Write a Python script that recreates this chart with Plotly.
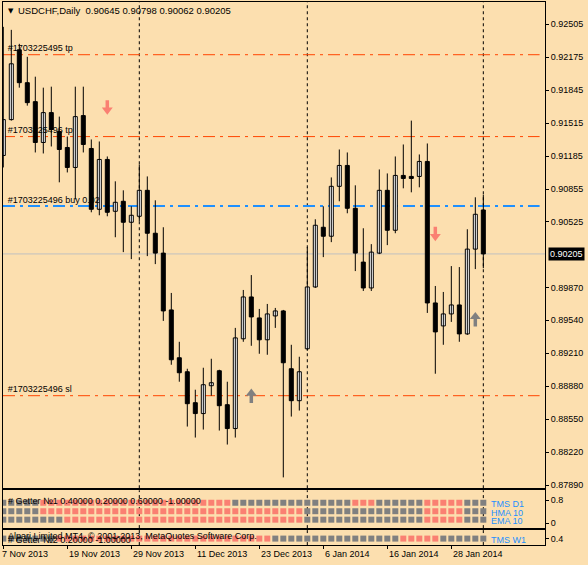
import plotly.graph_objects as go

# ---------------- data ----------------
opens = [0.91191, 0.91550, 0.92249, 0.91920, 0.91730, 0.91321, 0.91620, 0.91431, 0.91271, 0.91071,
         0.91590, 0.91261, 0.90652, 0.91151, 0.90632, 0.90732, 0.90522, 0.90582, 0.90842, 0.90412,
         0.90213, 0.89644, 0.89165, 0.89025, 0.88715, 0.88606, 0.88885, 0.89035, 0.88695, 0.88456,
         0.89355, 0.89774, 0.89564, 0.89345, 0.89584, 0.89634, 0.89055, 0.88735, 0.89255, 0.89874,
         0.90472, 0.90382, 0.90882, 0.91091, 0.90662, 0.90123, 0.89864, 0.90213, 0.90842, 0.90442,
         0.90991, 0.90981, 0.90981, 0.91131, 0.89714, 0.89484, 0.89604, 0.89694, 0.89404, 0.90253,
         0.90645]
highs = [0.92479, 0.92449, 0.92309, 0.92179, 0.91980, 0.91870, 0.91880, 0.91580, 0.91381, 0.91880,
         0.91880, 0.91351, 0.91331, 0.91181, 0.90932, 0.90842, 0.90682, 0.91101, 0.90981, 0.90742,
         0.90472, 0.89814, 0.89325, 0.89055, 0.88845, 0.89065, 0.89155, 0.89045, 0.88925, 0.89464,
         0.89844, 0.89993, 0.89654, 0.89704, 0.89664, 0.89644, 0.89295, 0.89175, 0.90273, 0.90552,
         0.90682, 0.90971, 0.91251, 0.91221, 0.90892, 0.90462, 0.90303, 0.91051, 0.91011, 0.91181,
         0.91301, 0.91540, 0.91201, 0.91311, 0.89884, 0.89824, 0.90083, 0.90073, 0.90452, 0.90772,
         0.90798]
lows = [0.91071, 0.91540, 0.91870, 0.91690, 0.91221, 0.91211, 0.91281, 0.90922, 0.91021, 0.90752,
        0.91221, 0.90622, 0.90592, 0.90582, 0.90372, 0.90223, 0.90153, 0.90532, 0.90183, 0.90103,
        0.89534, 0.89095, 0.88925, 0.88476, 0.88366, 0.88446, 0.88785, 0.88436, 0.88296, 0.88366,
        0.89325, 0.89285, 0.89205, 0.89195, 0.89464, 0.87967, 0.88576, 0.88636, 0.89235, 0.89864,
        0.90173, 0.90323, 0.90732, 0.90612, 0.90033, 0.89834, 0.89834, 0.90203, 0.90293, 0.90412,
        0.90862, 0.90822, 0.90872, 0.89614, 0.89005, 0.89295, 0.89524, 0.89325, 0.89394, 0.90053,
        0.90062]
closes = [0.91550, 0.92109, 0.91920, 0.91720, 0.91321, 0.91620, 0.91451, 0.91251, 0.91071, 0.91580,
          0.91301, 0.90652, 0.91151, 0.90622, 0.90722, 0.90522, 0.90592, 0.90842, 0.90412, 0.90213,
          0.89634, 0.89145, 0.89015, 0.88705, 0.88606, 0.88895, 0.88915, 0.88685, 0.88456, 0.89364,
          0.89774, 0.89574, 0.89345, 0.89604, 0.89634, 0.89115, 0.88735, 0.89025, 0.89874, 0.90492,
          0.90382, 0.90882, 0.91091, 0.90662, 0.90213, 0.89864, 0.90223, 0.90842, 0.90442, 0.90991,
          0.90961, 0.90961, 0.91131, 0.89714, 0.89424, 0.89604, 0.89694, 0.89404, 0.90253, 0.90602,
          0.90205]

date_tick_idx = [0, 8, 16, 24, 32, 40, 48, 56]
date_tick_labels = ["7 Nov 2013", "19 Nov 2013", "29 Nov 2013", "11 Dec 2013",
                    "23 Dec 2013", "6 Jan 2014", "16 Jan 2014", "28 Jan 2014"]
separator_idx = [17, 38, 60]

price_ticks = [0.92505, 0.92175, 0.91845, 0.91515, 0.91185, 0.90855, 0.90525,
               0.89870, 0.89540, 0.89210, 0.88880, 0.88550, 0.88220, 0.87890]
price_tick_text = ["0.92505", "0.92175", "0.91845", "0.91515", "0.91185", "0.90855", "0.90525",
                   "0.89870", "0.89540", "0.89210", "0.88880", "0.88550", "0.88220", "0.87890"]
last_price = 0.90205

order_levels = [0.92200, 0.91380, 0.90685, 0.88785]
order_labels = ["#1703225495 tp", "#1703225496 tp", "#1703225496 buy 0.02", "#1703225496 sl"]
order_colors = ["#FF4500", "#FF4500", "#1E90FF", "#FF4500"]
order_widths = [1, 1, 2, 1]

sell_arrow_idx = [13, 54]
sell_arrow_tip = [0.91600, 0.90333]
buy_arrow_idx = [31, 59]
buy_arrow_tip = [0.88856, 0.89624]

# indicator states: g = gray, s = salmon
getter1_rows = {
    "TMS D1": "ggggg" + "s" * 24 + "g" * 15 + "sss" + "g" * 6 + "s" * 5 + "ggg",
    "HMA 10": "ggggg" + "s" * 33 + "g" * 15 + "s" * 5 + "ggg",
    "EMA 10": "g" * 8 + "s" * 30 + "g" * 15 + "s" * 5 + "ggg",
}
getter1_levels = [0.713, 0.417, 0.122]
getter2_row = {"TMS W1": "g" * 7 + "s" * 27 + "g" * 16 + "s" * 5 + "g" * 6}
getter2_level = 0.4

# ---------------- style ----------------
BG = "#FCDFAF"
FONT = "Liberation Sans"
W, H = 588, 565
GRAY_SQ = "#808080"
SALMON = "#FA8072"

def px_x(p):
    return p / W

def px_y(p):
    return 1 - p / H

n = len(opens)
xs = list(range(n))
y_min, y_max = 0.87858, 0.92728
x_min, x_max = -0.0375, 67.71
k = (y_max - y_min) / 488.0  # price per pixel

fig = go.Figure()

# order label texts (under candles)
fig.add_trace(go.Scatter(
    x=[0.55] * len(order_levels), y=[lv + 5.5 * k for lv in order_levels],
    mode="text", text=order_labels, textposition="middle right",
    textfont=dict(family=FONT, size=9, color="black"),
    hoverinfo="skip", showlegend=False, xaxis="x", yaxis="y"))

# wicks
wx, wy = [], []
for i in xs:
    wx += [i, i, None]
    wy += [lows[i], highs[i], None]
fig.add_trace(go.Scatter(x=wx, y=wy, mode="lines", line=dict(color="black", width=1),
                         hoverinfo="skip", showlegend=False, xaxis="x", yaxis="y"))

# bodies
base, height, colors = [], [], []
for o, c in zip(opens, closes):
    base.append(min(o, c))
    height.append(max(abs(c - o), 0.00002))
    colors.append("white" if c >= o else "black")
fig.add_trace(go.Bar(x=xs, y=height, base=base, width=0.5,
                     marker=dict(color=colors, line=dict(color="black", width=1)),
                     hoverinfo="skip", showlegend=False, xaxis="x", yaxis="y"))

# arrows
def add_arrow(idx, tip, color, up):
    sgn = -1 if up else 1
    head_y = [t + sgn * 4.75 * k for t in tip]
    sx, sy = [], []
    for i, t in zip(idx, tip):
        sx += [i, i, None]
        sy += [t + sgn * 6.5 * k, t + sgn * 14.5 * k, None]
    fig.add_trace(go.Scatter(x=sx, y=sy, mode="lines", line=dict(color=color, width=3.5),
                             hoverinfo="skip", showlegend=False, xaxis="x", yaxis="y"))
    fig.add_trace(go.Scatter(x=idx, y=head_y, mode="markers",
                             marker=dict(symbol="triangle-up" if up else "triangle-down",
                                         size=9.5, color=color, line=dict(width=0)),
                             hoverinfo="skip", showlegend=False, xaxis="x", yaxis="y"))

add_arrow(sell_arrow_idx, sell_arrow_tip, SALMON, False)
add_arrow(buy_arrow_idx, buy_arrow_tip, GRAY_SQ, True)

# indicator squares
def add_squares(row, level, xa, ya):
    cols = [GRAY_SQ if ch == "g" else SALMON for ch in row]
    fig.add_trace(go.Scatter(x=xs, y=[level] * n, mode="markers",
                             marker=dict(symbol="square", size=6, color=cols, line=dict(width=0)),
                             hoverinfo="skip", showlegend=False, xaxis=xa, yaxis=ya))

for (name, row), lv in zip(getter1_rows.items(), getter1_levels):
    add_squares(row, lv, "x2", "y2")
for name, row in getter2_row.items():
    add_squares(row, getter2_level, "x3", "y3")

shapes = []
# separators
for (xa, ya) in [("x", "y"), ("x2", "y2"), ("x3", "y3")]:
    for s in separator_idx:
        shapes.append(dict(type="line", xref=xa, yref=ya + " domain", x0=s, x1=s, y0=0, y1=1,
                           line=dict(color="black", width=1, dash="3px,3px"), layer="below"))
# order lines
for lv, col, wd in zip(order_levels, order_colors, order_widths):
    shapes.append(dict(type="line", xref="x domain", yref="y", x0=0, x1=0.99, y0=lv, y1=lv,
                       line=dict(color=col, width=wd, dash="12px,5px,3px,5px"), layer="below"))
# last price line
shapes.append(dict(type="line", xref="x domain", yref="y", x0=0, x1=1, y0=last_price, y1=last_price,
                   line=dict(color="#C0C0C0", width=1), layer="below"))

annotations = []
annotations.append(dict(xref="paper", yref="paper", x=px_x(5.5), y=px_y(10.8), xanchor="left",
                        yanchor="middle", text="▼", showarrow=False,
                        font=dict(family="DejaVu Sans", size=7, color="black")))
annotations.append(dict(xref="paper", yref="paper", x=px_x(16), y=px_y(10.7), xanchor="left",
                        yanchor="middle", showarrow=False,
                        text="USDCHF,Daily  %.5f %.5f %.5f %.5f" % (opens[-1], highs[-1], lows[-1], closes[-1]),
                        font=dict(family=FONT, size=9.5, color="black")))
annotations.append(dict(xref="paper", yref="y", x=px_x(547.5), y=last_price, xanchor="left",
                        yanchor="middle", text=f"{last_price:.5f}", showarrow=False, bgcolor="black",
                        borderpad=1, font=dict(family=FONT, size=9, color="white")))
annotations.append(dict(xref="paper", yref="paper", x=px_x(6), y=px_y(502.5), xanchor="left",
                        yanchor="middle", showarrow=False,
                        text="# Getter №1 0.40000 0.20000 0.60000 -1.00000",
                        font=dict(family=FONT, size=9, color="black")))
annotations.append(dict(xref="paper", yref="paper", x=px_x(6), y=px_y(538), xanchor="left",
                        yanchor="middle", showarrow=False,
                        text="Alpari Limited MT4, © 2001-2013, MetaQuotes Software Corp.",
                        font=dict(family=FONT, size=9, color="black")))
annotations.append(dict(xref="paper", yref="paper", x=px_x(6), y=px_y(541.5), xanchor="left",
                        yanchor="middle", showarrow=False,
                        text="# Getter №2 0.20000 -1.00000",
                        font=dict(family=FONT, size=9, color="black")))
for name, lv in zip(getter1_rows.keys(), getter1_levels):
    annotations.append(dict(xref="paper", yref="y2", x=px_x(489), y=lv - 0.06, xanchor="left",
                            yanchor="middle", text=name, showarrow=False,
                            font=dict(family=FONT, size=9, color="#1E90FF")))
for name in getter2_row.keys():
    annotations.append(dict(xref="paper", yref="y3", x=px_x(489), y=getter2_level - 0.06,
                            xanchor="left", yanchor="middle", text=name, showarrow=False,
                            font=dict(family=FONT, size=9, color="#1E90FF")))
for j, (ti, tl) in enumerate(zip(date_tick_idx, date_tick_labels)):
    annotations.append(dict(xref="x3", yref="paper", x=ti, y=px_y(556), xanchor="left",
                            yanchor="middle", text=tl, showarrow=False, xshift=(-3.5 if j == 0 else 0),
                            font=dict(family=FONT, size=9, color="black")))

axis_common = dict(showgrid=False, zeroline=False, showline=True, linecolor="black", linewidth=1,
                   mirror=True)
fig.update_layout(
    width=W, height=H, margin=dict(l=0, r=0, t=0, b=0),
    paper_bgcolor=BG, plot_bgcolor=BG, showlegend=False, barmode="overlay",
    shapes=shapes, annotations=annotations,
    xaxis=dict(domain=[px_x(3), px_x(545)], range=[x_min, x_max], anchor="y",
               showticklabels=False, ticks="", **axis_common),
    yaxis=dict(domain=[px_y(490), px_y(2)], range=[y_min, y_max], side="right", anchor="x",
               tickvals=price_ticks, ticktext=price_tick_text, ticks="outside", ticklen=3,
               tickcolor="black", tickfont=dict(family=FONT, size=9, color="black"), **axis_common),
    xaxis2=dict(domain=[px_x(3), px_x(545)], range=[x_min, x_max], anchor="y2", matches="x",
                showticklabels=False, ticks="", **axis_common),
    yaxis2=dict(domain=[px_y(530), px_y(492)], range=[-0.173, 1.148], side="right", anchor="x2",
                tickvals=[0.8, 0], ticktext=["0.8", "0"], ticks="outside", ticklen=3, tickcolor="black",
                tickfont=dict(family=FONT, size=9, color="black"), **axis_common),
    xaxis3=dict(domain=[px_x(3), px_x(545)], range=[x_min, x_max], anchor="y3", matches="x",
                showticklabels=False, tickvals=date_tick_idx, ticks="outside", ticklen=3,
                tickcolor="black", **axis_common),
    yaxis3=dict(domain=[px_y(547), px_y(532)], range=[0.174, 0.696], side="right", anchor="x3",
                tickvals=[0.4], ticktext=["0.4"], ticks="outside", ticklen=3, tickcolor="black",
                tickfont=dict(family=FONT, size=9, color="black"), **axis_common),
)

fig.write_html("out.html")
